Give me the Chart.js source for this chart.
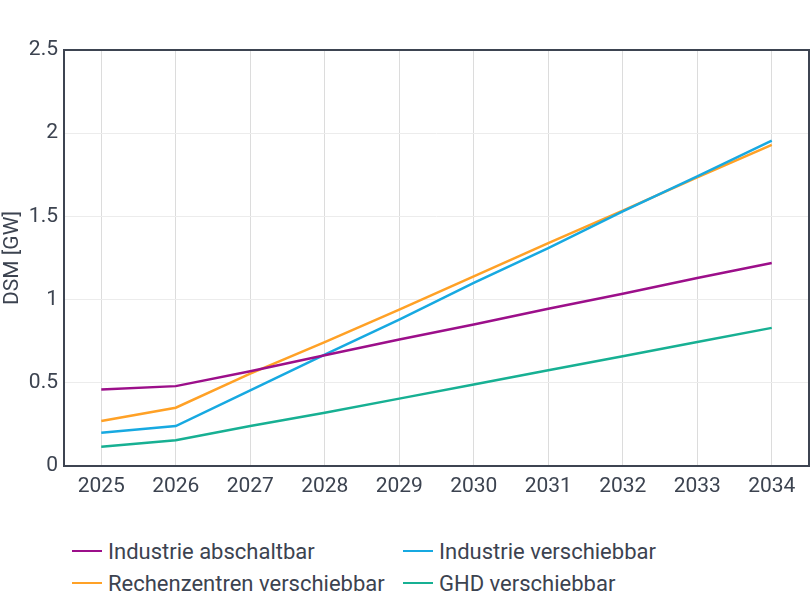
<!DOCTYPE html>
<html>
<head>
<meta charset="utf-8">
<script src="https://cdn.jsdelivr.net/npm/chart.js@4"></script>
<style>
  body { margin: 0; background: #fff; font-family: Roboto, sans-serif; color: #3c4350; }
  #wrap { position: relative; width: 811px; height: 515px; }
  #legend { position: absolute; left: 72px; top: 538px; display: grid;
            grid-template-columns: 331px 330px; row-gap: 6px; font-size: 22px; }
  .item { display: flex; align-items: center; height: 26px; }
  .swatch { width: 30px; height: 2px; margin-right: 6px; }
</style>
</head>
<body>
<div id="wrap"><canvas id="lineChart"></canvas></div>
<div id="legend"></div>
<script>
const years = ['2025', '2026', '2027', '2028', '2029', '2030', '2031', '2032', '2033', '2034'];
const industrieAbschaltbar = [0.46, 0.48, 0.57, 0.665, 0.76, 0.85, 0.945, 1.035, 1.13, 1.22];
const industrieVerschiebbar = [0.2, 0.24, 0.455, 0.67, 0.88, 1.1, 1.31, 1.53, 1.74, 1.955];
const rechenzentren = [0.27, 0.35, 0.555, 0.745, 0.94, 1.14, 1.34, 1.535, 1.735, 1.93];
const ghd = [0.115, 0.155, 0.24, 0.32, 0.405, 0.49, 0.575, 0.66, 0.745, 0.83];
const yTicks = [0, 0.5, 1, 1.5, 2, 2.5];

const textColor = '#3c4350';
const frameColor = '#3d4451';

// frame around the plot area
const framePlugin = {
  id: 'frame',
  afterDraw(chart) {
    const a = chart.chartArea;
    const c = chart.ctx;
    c.save();
    c.strokeStyle = frameColor;
    c.lineWidth = 2;
    c.strokeRect(a.left, a.top, a.right - a.left, a.bottom - a.top);
    c.restore();
  }
};

const ctx = document.getElementById('lineChart').getContext('2d');
const lineChart = new Chart(ctx, {
  type: 'line',
  data: {
    labels: years,
    datasets: [
      { label: 'Industrie abschaltbar', data: industrieAbschaltbar, borderColor: '#9c0f8a' },
      { label: 'Industrie verschiebbar', data: industrieVerschiebbar, borderColor: '#17a9e1' },
      { label: 'Rechenzentren verschiebbar', data: rechenzentren, borderColor: '#ffa126' },
      { label: 'GHD verschiebbar', data: ghd, borderColor: '#17b093' }
    ]
  },
  options: {
    responsive: true,
    maintainAspectRatio: false,
    animation: false,
    elements: {
      line: { borderWidth: 2.5, tension: 0 },
      point: { radius: 0 }
    },
    layout: { padding: { top: 50, right: 2, left: 0, bottom: 0 } },
    plugins: {
      legend: { display: false },
      tooltip: { enabled: false }
    },
    scales: {
      x: {
        offset: true,
        grid: { offset: false, color: '#dcdcdc', drawTicks: false },
        border: { display: false },
        ticks: { color: textColor, font: { family: 'Roboto', size: 21 }, padding: 8, maxRotation: 0 },
        afterFit(scale) { scale.height = 49; }
      },
      y: {
        min: 0,
        max: 2.5,
        afterBuildTicks(scale) { scale.ticks = yTicks.map(v => ({ value: v })); },
        grid: { color: '#ececec', drawTicks: false },
        border: { display: false },
        ticks: {
          color: textColor, font: { family: 'Roboto', size: 21 }, padding: 6,
          callback: function(value) { return String(value); }
        },
        title: { display: true, text: 'DSM [GW]', color: textColor, font: { family: 'Roboto', size: 21 }, padding: 0 },
        afterFit(scale) { scale.width = 64; }
      }
    }
  },
  plugins: [framePlugin]
});

// two-column legend below the chart
const legend = document.getElementById('legend');
lineChart.data.datasets.forEach(ds => {
  const item = document.createElement('div');
  item.className = 'item';
  item.innerHTML = '<span class="swatch" style="background:' + ds.borderColor + '"></span>' + ds.label;
  legend.appendChild(item);
});
</script>
</body>
</html>
